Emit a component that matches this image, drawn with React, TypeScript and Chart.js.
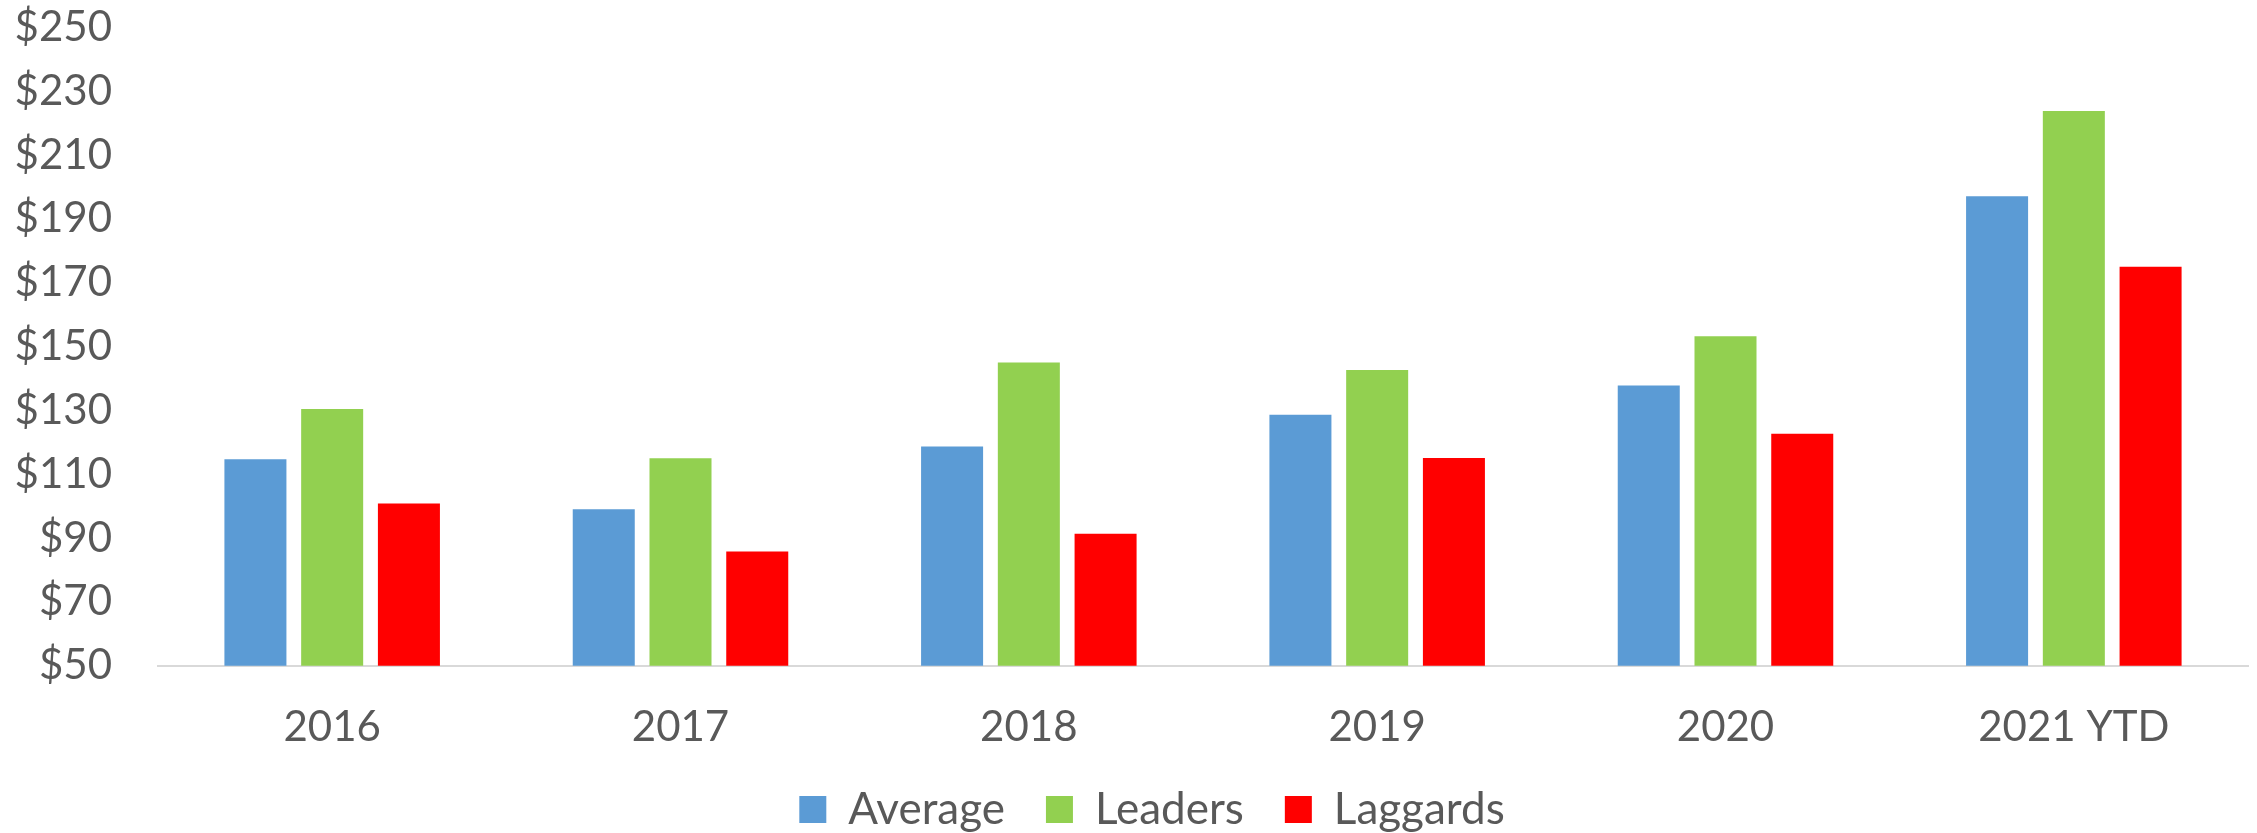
import React, { useEffect, useRef } from 'react';
import { Chart, registerables } from 'chart.js';

Chart.register(...registerables);

const categories = ['2016', '2017', '2018', '2019', '2020', '2021 YTD'];
const seriesNames = ['Average', 'Leaders', 'Laggards'];
const averageValues = [114.7, 99.0, 118.7, 128.6, 137.8, 197.1];
const leadersValues = [130.4, 115.0, 145.0, 142.6, 153.2, 223.8];
const laggardsValues = [100.8, 85.8, 91.3, 115.1, 122.7, 175.0];
const yMin = 50;
const yMax = 250;
const yStep = 20;

const colors = ['#5B9BD5', '#92D050', '#FF0000'];
const textColor = '#595959';
const fontFamily = 'Lato, "Open Sans", sans-serif';

const legendShift = {
  id: 'legendShift',
  afterLayout(chart: any) {
    const lg = chart.legend;
    if (lg) {
      lg.left += 28;
      lg.right += 28;
    }
  },
};

export default function App() {
  const canvasRef = useRef<HTMLCanvasElement | null>(null);

  useEffect(() => {
    document.body.style.margin = '0';
    const canvas = canvasRef.current;
    if (!canvas) return;
    const values = [averageValues, leadersValues, laggardsValues];
    const chart = new Chart(canvas, {
      type: 'bar',
      data: {
        labels: categories,
        datasets: seriesNames.map((name, i) => ({
          label: name,
          data: values[i],
          backgroundColor: colors[i],
          borderWidth: 0,
          categoryPercentage: 0.661,
          barPercentage: 0.808,
        })),
      },
      plugins: [legendShift],
      options: {
        responsive: false,
        animation: false,
        devicePixelRatio: 1,
        layout: { padding: { top: 27.3, left: 0, right: 9, bottom: -8.4 } },
        plugins: {
          tooltip: { enabled: false },
          legend: {
            position: 'bottom',
            labels: {
              boxWidth: 27,
              boxHeight: 27,
              padding: 41,
              color: textColor,
              font: { family: fontFamily, size: 44 },
            },
          },
        },
        scales: {
          x: {
            grid: { display: false, drawTicks: false },
            border: { display: true, color: '#D9D9D9', width: 2 },
            ticks: {
              color: textColor,
              padding: 36.4,
              font: { family: fontFamily, size: 42 },
              maxRotation: 0,
            },
            afterFit: (scale: any) => {
              scale.height = 80.7;
            },
          },
          y: {
            min: yMin,
            max: yMax,
            grid: { display: false, drawTicks: false },
            border: { display: false },
            ticks: {
              stepSize: yStep,
              color: textColor,
              padding: 46,
              font: { family: fontFamily, size: 42 },
              callback: (v: any) => '$' + v,
            },
            afterFit: (scale: any) => {
              scale.width = 158;
              scale.paddingTop = 0;
              scale.paddingBottom = 0;
            },
          },
        },
      },
    });
    return () => chart.destroy();
  }, []);

  return (
    <div style={{ width: 2257, height: 833 }}>
      <canvas ref={canvasRef} width={2257} height={833} style={{ display: 'block' }} />
    </div>
  );
}
